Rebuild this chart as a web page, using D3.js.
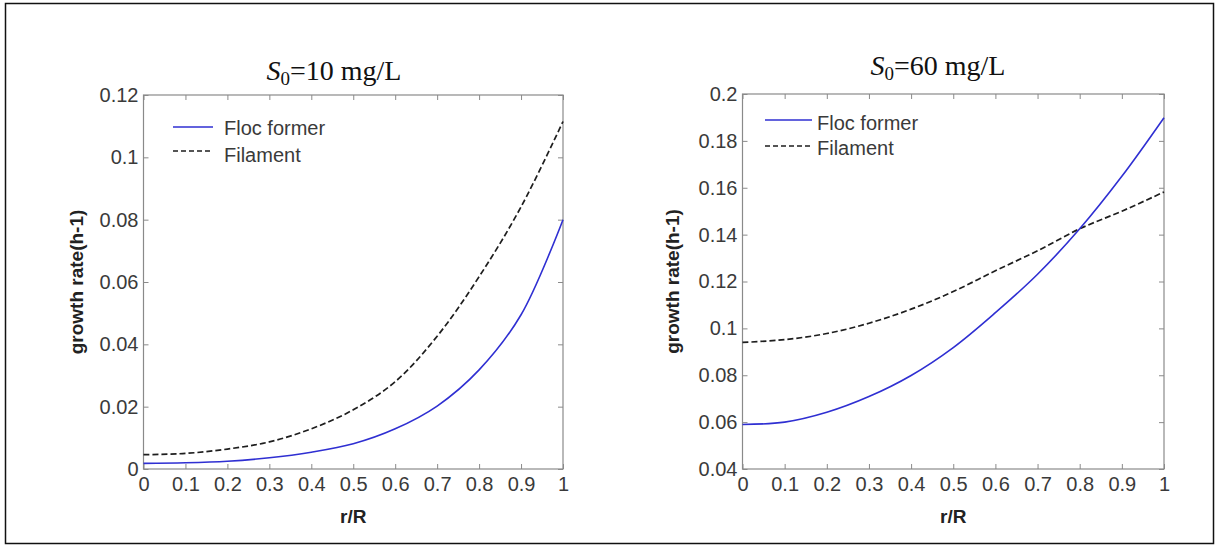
<!DOCTYPE html>
<html>
<head>
<meta charset="utf-8">
<script src="https://cdn.jsdelivr.net/npm/d3@7/dist/d3.min.js"></script>
<style>
  html, body { margin: 0; padding: 0; background: #fff; }
  svg { display: block; }
</style>
</head>
<body>
<svg id="chart" width="1219" height="548"></svg>
<script>
// ---------- data ----------
const rR = [0, 0.1, 0.2, 0.3, 0.4, 0.5, 0.6, 0.7, 0.8, 0.9, 1.0];

// S0 = 10 mg/L
const flocFormer10 = [0.0018, 0.0020, 0.0025, 0.0036, 0.0054, 0.0081, 0.0129, 0.0202, 0.0318, 0.0495, 0.0800];
const filament10   = [0.0046, 0.0050, 0.0064, 0.0087, 0.0129, 0.0190, 0.0280, 0.0426, 0.0617, 0.0841, 0.1115];

// S0 = 60 mg/L
const flocFormer60 = [0.0590, 0.0600, 0.0642, 0.0709, 0.0799, 0.0918, 0.1067, 0.1231, 0.1425, 0.1649, 0.1899];
const filament60   = [0.0940, 0.0952, 0.0978, 0.1022, 0.1082, 0.1157, 0.1246, 0.1331, 0.1425, 0.1500, 0.1582];

const xTicks = [0, 0.1, 0.2, 0.3, 0.4, 0.5, 0.6, 0.7, 0.8, 0.9, 1];
const xTickLabels = ["0", "0.1", "0.2", "0.3", "0.4", "0.5", "0.6", "0.7", "0.8", "0.9", "1"];
const yTicks10 = [0, 0.02, 0.04, 0.06, 0.08, 0.1, 0.12];
const yTickLabels10 = ["0", "0.02", "0.04", "0.06", "0.08", "0.1", "0.12"];
const yTicks60 = [0.04, 0.06, 0.08, 0.1, 0.12, 0.14, 0.16, 0.18, 0.2];
const yTickLabels60 = ["0.04", "0.06", "0.08", "0.1", "0.12", "0.14", "0.16", "0.18", "0.2"];

const seriesNames = ["Floc former", "Filament"];
const titleValues = ["10", "60"];
const xLabel = "r/R";
const yLabel = "growth rate(h-1)";

// ---------- drawing ----------
const svg = d3.select("#chart");
const axisGrey = "#8a8a8a";
const textGrey = "#3a3a3a";
const blue = "#2f2fd2";
const dark = "#1e1e1e";

svg.append("rect")
  .attr("x", 5.5).attr("y", 3.5)
  .attr("width", 1208).attr("height", 540)
  .attr("fill", "#fff").attr("stroke", "#111").attr("stroke-width", 1.5);

function drawPanel(cfg) {
  const x = d3.scaleLinear().domain([0, 1]).range([cfg.x0, cfg.x1]);
  const y = d3.scaleLinear().domain(cfg.yDomain).range([cfg.y1, cfg.y0]);
  const g = svg.append("g");

  g.append("rect")
    .attr("x", cfg.x0).attr("y", cfg.y0)
    .attr("width", cfg.x1 - cfg.x0).attr("height", cfg.y1 - cfg.y0)
    .attr("fill", "none").attr("stroke", axisGrey).attr("stroke-width", 1.2);

  const style = sel => {
    sel.select(".domain").remove();
    sel.selectAll(".tick line").attr("stroke", axisGrey).attr("stroke-width", 1);
    sel.selectAll(".tick text")
      .attr("fill", textGrey)
      .style("font-family", "'Liberation Sans', Arial, sans-serif")
      .style("font-size", "20px");
  };

  g.append("g").attr("transform", `translate(0,${cfg.y1})`)
    .call(d3.axisBottom(x).tickValues(xTicks).tickFormat((d, i) => xTickLabels[i])
      .tickSizeInner(-5).tickSizeOuter(0).tickPadding(8))
    .call(style);
  g.append("g").attr("transform", `translate(0,${cfg.y0})`)
    .call(d3.axisTop(x).tickValues(xTicks).tickFormat("")
      .tickSizeInner(-5).tickSizeOuter(0))
    .call(style);
  g.append("g").attr("transform", `translate(${cfg.x0},0)`)
    .call(d3.axisLeft(y).tickValues(cfg.yTicks).tickFormat((d, i) => cfg.yTickLabels[i])
      .tickSizeInner(-5).tickSizeOuter(0).tickPadding(5))
    .call(style);
  g.append("g").attr("transform", `translate(${cfg.x1},0)`)
    .call(d3.axisRight(y).tickValues(cfg.yTicks).tickFormat("")
      .tickSizeInner(-5).tickSizeOuter(0))
    .call(style);

  const line = d3.line()
    .x((d, i) => x(rR[i]))
    .y(d => y(d))
    .curve(d3.curveCatmullRom.alpha(0.5));

  g.append("path").datum(cfg.filament)
    .attr("d", line).attr("fill", "none")
    .attr("stroke", dark).attr("stroke-width", 1.7)
    .attr("stroke-dasharray", "6,3");
  g.append("path").datum(cfg.floc)
    .attr("d", line).attr("fill", "none")
    .attr("stroke", blue).attr("stroke-width", 1.6);

  const L = cfg.legend;
  g.append("line").attr("x1", L.lx0).attr("x2", L.lx1).attr("y1", L.y1).attr("y2", L.y1)
    .attr("stroke", blue).attr("stroke-width", 1.6);
  g.append("line").attr("x1", L.lx0).attr("x2", L.lx1).attr("y1", L.y2).attr("y2", L.y2)
    .attr("stroke", dark).attr("stroke-width", 1.6).attr("stroke-dasharray", "5,3");
  [[seriesNames[0], L.t1], [seriesNames[1], L.t2]].forEach(([t, by]) => {
    g.append("text").attr("x", L.tx).attr("y", by)
      .attr("fill", textGrey)
      .style("font-family", "'Liberation Sans', Arial, sans-serif")
      .style("font-size", "20px")
      .text(t);
  });

  const title = g.append("text")
    .attr("x", cfg.titleX).attr("y", cfg.titleY)
    .attr("text-anchor", "middle")
    .attr("fill", "#111")
    .style("font-family", "'Liberation Serif', 'Times New Roman', serif")
    .style("font-size", "28px");
  title.append("tspan").style("font-style", "italic").text("S");
  title.append("tspan").attr("dy", 5).style("font-size", "19px").text("0");
  title.append("tspan").attr("dy", -5).text("=" + cfg.titleValue + " mg/L");

  g.append("text")
    .attr("x", (cfg.x0 + cfg.x1) / 2).attr("y", 523)
    .attr("text-anchor", "middle").attr("fill", "#222")
    .style("font-family", "'Liberation Sans', Arial, sans-serif")
    .style("font-size", "19px").style("font-weight", "bold")
    .text(xLabel);
  g.append("text")
    .attr("transform", `translate(${cfg.ylabX},${(cfg.y0 + cfg.y1) / 2}) rotate(-90)`)
    .attr("text-anchor", "middle").attr("dy", "0.35em").attr("fill", "#222")
    .style("font-family", "'Liberation Sans', Arial, sans-serif")
    .style("font-size", "19px").style("font-weight", "bold")
    .text(yLabel);
}

drawPanel({
  x0: 143.5, x1: 563, y0: 95, y1: 469,
  yDomain: [0, 0.12], yTicks: yTicks10, yTickLabels: yTickLabels10,
  floc: flocFormer10, filament: filament10,
  legend: { lx0: 173, lx1: 213, y1: 127, y2: 151, tx: 224, t1: 135, t2: 162 },
  titleX: 334, titleY: 80, titleValue: titleValues[0],
  ylabX: 76
});

drawPanel({
  x0: 742.5, x1: 1164, y0: 94, y1: 469,
  yDomain: [0.04, 0.2], yTicks: yTicks60, yTickLabels: yTickLabels60,
  floc: flocFormer60, filament: filament60,
  legend: { lx0: 765, lx1: 812, y1: 120, y2: 146, tx: 817, t1: 130, t2: 155 },
  titleX: 938, titleY: 75, titleValue: titleValues[1],
  ylabX: 672
});
</script>
</body>
</html>
